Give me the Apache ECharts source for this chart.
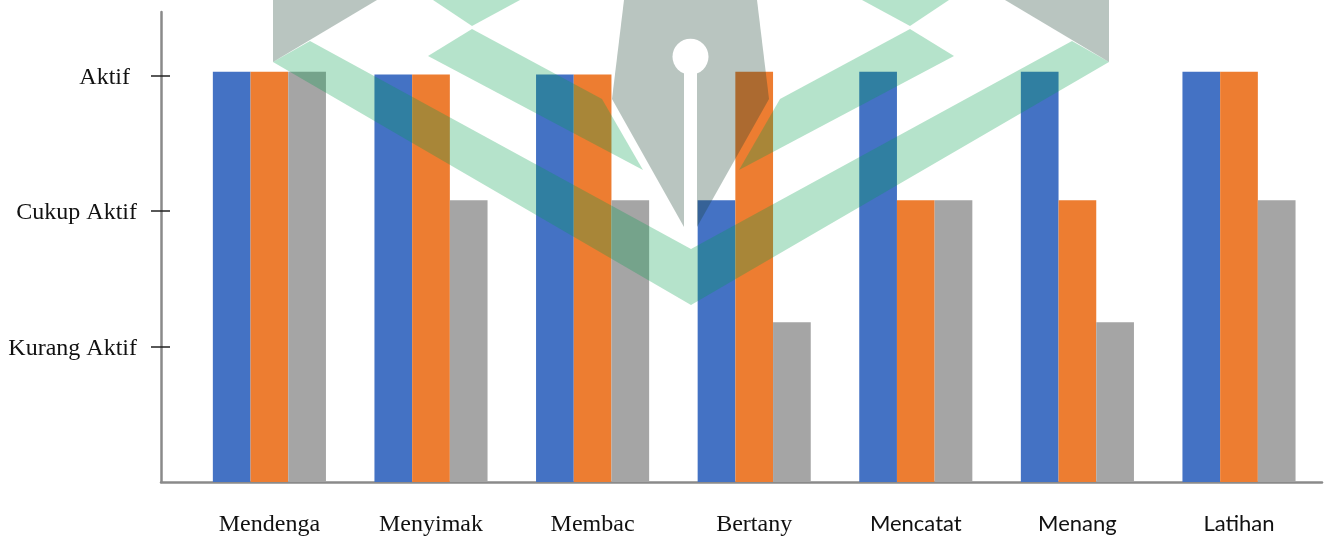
<!DOCTYPE html>
<html>
<head>
<meta charset="utf-8">
<title>Keaktifan</title>
<script src="https://cdn.jsdelivr.net/npm/echarts@6/dist/echarts.min.js"></script>
<style>
  html, body { margin: 0; padding: 0; background: #fff; }
  #chart { width: 1331px; height: 537px; }
</style>
</head>
<body>
<div id="chart"></div>
<script>
// kategori kegiatan (label terpotong seperti di gambar)
const categories = ['Mendenga', 'Menyimak', 'Membac', 'Bertany', 'Mencatat', 'Menang', 'Latihan']
// 1 = Kurang Aktif, 2 = Cukup Aktif, 3 = Aktif
const levelValues = [1, 2, 3]
const levelLabels = ['Kurang Aktif', 'Cukup Aktif', 'Aktif']
const seriesBlue = [3.03, 3.01, 3.01, 2.08, 3.03, 3.03, 3.03]
const seriesOrange = [3.03, 3.01, 3.01, 3.03, 2.08, 2.08, 3.03]
const seriesGray = [3.03, 2.08, 2.08, 1.18, 2.08, 1.18, 2.08]
// label yang ditulis dengan font serif, sisanya sans
const serifLabels = ['Mendenga', 'Menyimak', 'Membac', 'Bertany']

const yMax = 3.471
const axisGray = '#8a8a8a'

// watermark di atas grafik (logo)
const markGray = 'rgba(22,62,48,0.3)'
const markGreen = 'rgba(0,158,76,0.29)'
function poly (points, fill) {
  return { type: 'polygon', z: 100, silent: true, shape: { points: points }, style: { fill: fill } }
}
const watermark = [
  poly([[273, 0], [273, 62], [377, 0]], markGray),
  poly([[1109, 0], [1109, 62], [1005, 0]], markGray),
  poly([[624, 0], [757, 0], [769, 99], [697, 227], [684, 227], [612, 99]], markGray),
  poly([[273, 62], [310, 41], [691, 249], [1072, 41], [1109, 62], [691, 305]], markGreen),
  poly([[433, 0], [520, 0], [472, 26]], markGreen),
  poly([[949, 0], [862, 0], [910, 26]], markGreen),
  poly([[428, 56], [472, 29], [602, 99], [643, 170]], markGreen),
  poly([[954, 56], [910, 29], [780, 99], [739, 170]], markGreen),
  { type: 'circle', z: 101, silent: true, shape: { cx: 690.5, cy: 56.7, r: 18 }, style: { fill: '#fff' } },
  { type: 'rect', z: 101, silent: true, shape: { x: 684, y: 60, width: 13, height: 167 }, style: { fill: '#fff' } }
]

function initChart () {
  const chart = echarts.init(document.getElementById('chart'), null, { renderer: 'canvas' })
  const barStyle = color => ({ color: color })
  const option = {
    animation: false,
    backgroundColor: '#fff',
    grid: [
      // grid 0: hanya garis sumbu
      { left: 161, right: 9, top: 12, bottom: 55, outerBoundsMode: 'none' },
      // grid 1: batang
      { left: 188.6, right: 11.2, top: 12, bottom: 55, outerBoundsMode: 'none' }
    ],
    xAxis: [
      {
        type: 'category', gridIndex: 0, data: categories,
        axisLine: { lineStyle: { color: axisGray, width: 2.5 } },
        axisTick: { show: false },
        axisLabel: { show: false },
        splitLine: { show: false }
      },
      {
        type: 'category', gridIndex: 1, data: categories,
        axisLine: { show: false },
        axisTick: { show: false },
        splitLine: { show: false },
        axisLabel: {
          interval: 0,
          margin: 31,
          formatter: v => {
            if (v === 'Menyimak') return '{u|' + v + '}'
            return serifLabels.includes(v) ? '{s|' + v + '}' : '{c|' + v + '}'
          },
          rich: {
            s: { fontFamily: 'Liberation Serif', fontSize: 24, color: '#111' },
            u: { fontFamily: 'Liberation Serif', fontSize: 24, color: '#111', padding: [0, 0, 7, 0] },
            c: { fontFamily: 'Lato', fontSize: 22, color: '#111', padding: [0, 0, 3, 0] }
          }
        }
      }
    ],
    yAxis: [
      {
        type: 'value', gridIndex: 0, position: 'left', min: 0, max: yMax,
        axisLine: { show: true, lineStyle: { color: axisGray, width: 2.5 } },
        axisTick: { show: true, length: 10, customValues: levelValues, lineStyle: { color: '#222', width: 1.5 } },
        splitLine: { show: false },
        axisLabel: {
          customValues: levelValues,
          margin: 24,
          formatter: v => {
            const i = levelValues.indexOf(v)
            if (i < 0) return ''
            return i === 2 ? '{a|' + levelLabels[i] + '}' : '{b|' + levelLabels[i] + '}'
          },
          rich: {
            a: { fontFamily: 'Liberation Serif', fontSize: 24, color: '#111', padding: [4, 7, 0, 0] },
            b: { fontFamily: 'Liberation Serif', fontSize: 24, color: '#111', padding: [4, 0, 0, 0] }
          }
        }
      },
      {
        // tick bagian dalam, digeser ke garis sumbu grid 0
        type: 'value', gridIndex: 1, position: 'left', offset: 27.6, min: 0, max: yMax,
        axisLine: { show: false },
        axisTick: { show: true, inside: true, length: 9, customValues: levelValues, lineStyle: { color: '#222', width: 1.5 } },
        axisLabel: { show: false },
        splitLine: { show: false }
      }
    ],
    series: [
      { name: 'Seri 1', type: 'bar', xAxisIndex: 1, yAxisIndex: 1, data: seriesBlue, barWidth: 37.7, barGap: '0%', itemStyle: barStyle('#4472C4') },
      { name: 'Seri 2', type: 'bar', xAxisIndex: 1, yAxisIndex: 1, data: seriesOrange, barWidth: 37.7, barGap: '0%', itemStyle: barStyle('#ED7D31') },
      { name: 'Seri 3', type: 'bar', xAxisIndex: 1, yAxisIndex: 1, data: seriesGray, barWidth: 37.7, barGap: '0%', itemStyle: barStyle('#A5A5A5') }
    ],
    graphic: watermark
  }
  chart.setOption(option)
}

initChart()
</script>
</body>
</html>
